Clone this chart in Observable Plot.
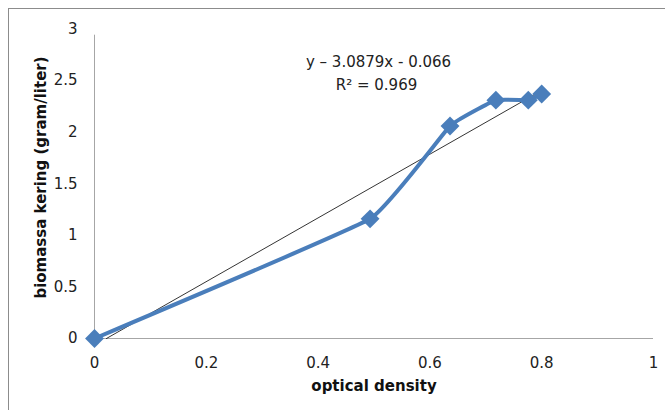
<!DOCTYPE html>
<html>
<head>
<meta charset="utf-8">
<script src="https://cdn.jsdelivr.net/npm/d3@7"></script>
<script src="https://cdn.jsdelivr.net/npm/@observablehq/plot@0.6"></script>
<style>
  html, body { margin: 0; padding: 0; background: #fff; overflow: hidden; }
  #wrap { position: relative; width: 665px; height: 410px; }
  #border { position: absolute; left: 8px; top: 8px; width: 700px; height: 450px;
            border: 1px solid #8c8c8c; box-sizing: border-box; pointer-events: none; }
</style>
</head>
<body>
<div id="wrap"><div id="border"></div></div>
<script>
// Data
const opticalDensity = [0, 0.493, 0.636, 0.718, 0.776, 0.800];
const biomassKering  = [0, 1.16, 2.06, 2.31, 2.31, 2.37];

// Linear trendline endpoints (as drawn)
const trendX = [0.0214, 0.800];
const trendY = [0, 2.404];

const xTicks = [0, 0.2, 0.4, 0.6, 0.8, 1];
const xTickLabels = ["0", "0.2", "0.4", "0.6", "0.8", "1"];
const yTicks = [0, 0.5, 1, 1.5, 2, 2.5, 3];
const yTickLabels = ["0", "0.5", "1", "1.5", "2", "2.5", "3"];

const equationText = "y \u2013 3.0879x - 0.066";
const r2Text = "R\u00b2 = 0.969";
const xTitle = "optical density";
const yTitle = "biomassa kering (gram/liter)";

const points = opticalDensity.map((x, i) => ({x, y: biomassKering[i]}));
const trend = trendX.map((x, i) => ({x, y: trendY[i]}));

const blue = "#4a7ebb";
const font = "'DejaVu Sans', sans-serif";

const chart = Plot.plot({
  width: 665,
  height: 410,
  marginLeft: 94,
  marginRight: 12,
  marginTop: 28.5,
  marginBottom: 72,
  style: { fontFamily: font, fontSize: "15px", color: "#222", background: "transparent" },
  x: { domain: [0, 1] },
  y: { domain: [0, 3] },
  marks: [
    Plot.ruleY([0], { stroke: "#a6a6a6", strokeWidth: 1 }),
    Plot.ruleX([0], { stroke: "#a6a6a6", strokeWidth: 1, y1: 0, y2: 2.94 }),
    Plot.axisX({ ticks: xTicks, tickFormat: (d, i) => xTickLabels[i], tickSize: 0, tickPadding: 19,
                 label: null, fontSize: 15, fill: "#222" }),
    Plot.axisY({ ticks: yTicks, tickFormat: (d, i) => yTickLabels[i], tickSize: 0, tickPadding: 17,
                 label: null, fontSize: 15, fill: "#222" }),
    Plot.line(trend, { x: "x", y: "y", stroke: "#000", strokeWidth: 0.8 }),
    Plot.line(points, { x: "x", y: "y", stroke: blue, strokeWidth: 4, curve: d3.curveCardinal.tension(0.7) }),
    Plot.dot(points, { x: "x", y: "y", symbol: "diamond2", r: 8.5, fill: blue, stroke: "none" }),
    Plot.text([equationText], { frameAnchor: "top-left", dx: 378 - 94, dy: 62 - 28.5,
      textAnchor: "middle", lineAnchor: "middle", fontSize: 15, fill: "#222" }),
    Plot.text([r2Text], { frameAnchor: "top-left", dx: 376 - 94, dy: 85 - 28.5,
      textAnchor: "middle", lineAnchor: "middle", fontSize: 15, fill: "#222" }),
    Plot.text([xTitle], { frameAnchor: "bottom", dy: 386 - 338, lineAnchor: "middle", fontSize: 15, fontWeight: "bold", fill: "#111" }),
    Plot.text([yTitle], { frameAnchor: "top-left", dx: 41 - 94, dy: 177 - 28.5, rotate: -90, textAnchor: "middle", lineAnchor: "middle",
      fontSize: 15, fontWeight: "bold", fill: "#111" })
  ]
});
document.getElementById("wrap").appendChild(chart);
chart.style.position = "absolute";
chart.style.left = "0";
chart.style.top = "0";
</script>
</body>
</html>
